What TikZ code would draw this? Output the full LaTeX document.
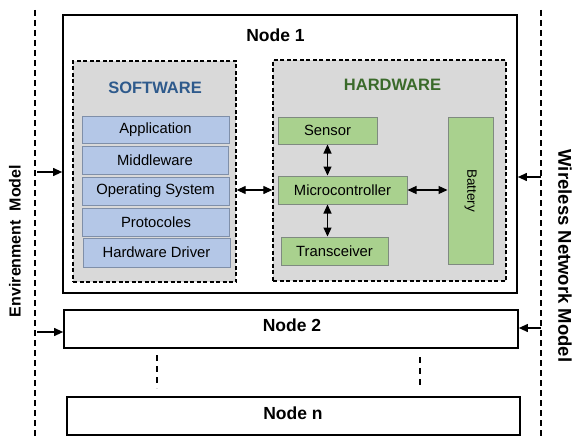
\documentclass[tikz,border=0pt]{standalone}
\usepackage{fontspec}
\setmainfont{Liberation Sans}
\usetikzlibrary{arrows.meta}
\definecolor{grayfill}{HTML}{D9D9D9}
\definecolor{bluefill}{HTML}{B4C7E7}
\definecolor{blueborder}{HTML}{7F8FA9}
\definecolor{greenfill}{HTML}{A9D18E}
\definecolor{greenborder}{HTML}{7F8A80}
\definecolor{swtext}{HTML}{2E5A8C}
\definecolor{hwtext}{HTML}{3A6A2A}
\tikzset{
  nodebox/.style={draw=black, line width=1.7pt, fill=white, inner sep=0pt},
  groupbox/.style={draw=black, dashed, dash pattern=on 4pt off 2.5pt, line width=1.3pt, fill=grayfill, inner sep=0pt},
  layerbox/.style={draw=blueborder, line width=1pt, fill=bluefill, inner sep=0pt, font=\fontsize{14.8}{17}\selectfont},
  partbox/.style={draw=greenborder, line width=1pt, fill=greenfill, inner sep=0pt, font=\fontsize{14.8}{17}\selectfont},
  titletext/.style={font=\bfseries\fontsize{17.5}{20}\selectfont, inner sep=0pt},
  grouptitle/.style={font=\bfseries\fontsize{16.5}{19}\selectfont, inner sep=0pt},
  sidetext/.style={font=\bfseries\fontsize{#1}{20}\selectfont, inner sep=0pt},
  modelline/.style={dashed, dash pattern=on 6pt off 4pt, line width=1.6pt},
  gapline/.style={dashed, dash pattern=on 6pt off 5pt, line width=1.4pt},
  conn/.style={line width=1.2pt, {Triangle[length=9pt,width=8pt]}-{Triangle[length=9pt,width=8pt]}},
  inarrow/.style={line width=1.1pt, -{Triangle[length=9pt,width=8pt]}}
}
\begin{document}
\begin{tikzpicture}[x=1pt,y=-1pt]
\useasboundingbox (0,0) rectangle (572,436);

% model lines
\coordinate (envtop) at (35,10);
\coordinate (envbot) at (35,436);
\coordinate (wnettop) at (541,10);
\coordinate (wnetbot) at (541,436);
\draw[modelline] (envtop) -- (envbot);
\draw[modelline] (wnettop) -- (wnetbot);

% side labels
\node[sidetext=16, rotate=90] (envlabel) at (15,241) {Envirenment~~Model};
\node[sidetext=18.5, rotate=-90] (wnetlabel) at (565,256) {Wireless Network Model};

% Node 1
\node[nodebox, minimum width=454pt, minimum height=278pt] (node1) at (290,154) {};
\node[titletext] (node1title) at (275.5,35) {Node 1};

% Software group
\node[groupbox, minimum width=163pt, minimum height=221pt] (sw) at (154.5,171.5) {};
\node[grouptitle, text=swtext] (swtitle) at (155,88) {SOFTWARE};
\node[layerbox, minimum width=147pt, minimum height=27pt] (app) at (155.5,129.5) {Application};
\node[layerbox, minimum width=146pt, minimum height=28pt] (mid) at (155,160) {Middleware};
\node[layerbox, minimum width=147pt, minimum height=28pt] (os) at (155.5,191) {Operating System};
\node[layerbox, minimum width=147pt, minimum height=28pt] (prot) at (156,222) {Protocoles};
\node[layerbox, minimum width=147pt, minimum height=29pt] (hd) at (156.5,252.5) {Hardware Driver};

% Hardware group
\node[groupbox, minimum width=233pt, minimum height=221pt] (hw) at (389.5,170.5) {};
\node[grouptitle, text=hwtext] (hwtitle) at (392.5,85) {HARDWARE};
\node[partbox, minimum width=99pt, minimum height=27pt] (sensor) at (327.5,130.5) {Sensor};
\node[partbox, minimum width=129pt, minimum height=28pt] (micro) at (342.5,190) {Microcontroller};
\node[partbox, minimum width=107pt, minimum height=28pt] (trans) at (334.5,251) {Transceiver};
\node[partbox, minimum width=45pt, minimum height=147pt] (battery) at (470.5,190.5) {};
\node[font=\fontsize{13.5}{16}\selectfont, rotate=-90, inner sep=0pt] (batterytext) at (battery.center) {Battery};

% internal connectors
\draw[conn] (sensor.south) -- (sensor.south |- micro.north);
\draw[conn] (micro.south -| sensor.south) -- (trans.north -| sensor.south);
\draw[conn] (micro.east) -- (micro.east -| battery.west);
\draw[conn] (sw.east |- micro.east) -- (hw.west |- micro.east);

% Node 2
\node[nodebox, minimum width=454pt, minimum height=38pt] (node2) at (291,329) {};
\node[titletext] (node2title) at (292,325) {Node 2};

% gap lines
\coordinate (gapAtop) at (157,355);
\coordinate (gapAbot) at (157,388);
\coordinate (gapBtop) at (420,357);
\coordinate (gapBbot) at (420,389);
\draw[gapline] (gapAtop) -- (gapAbot);
\draw[gapline] (gapBtop) -- (gapBbot);

% Node n
\node[nodebox, minimum width=453pt, minimum height=38pt] (noden) at (293.5,416) {};
\node[titletext] (nodentitle) at (293,413) {Node n};

% input arrows
\coordinate (e1) at (37,172);
\coordinate (e2) at (37,332);
\coordinate (w1) at (541,177);
\coordinate (w2) at (541,328);
\draw[inarrow] (e1) -- (e1 -| node1.west);
\draw[inarrow] (e2) -- (e2 -| node2.west);
\draw[inarrow] (w1) -- (w1 -| node1.east);
\draw[inarrow] (w2) -- (w2 -| node2.east);
\end{tikzpicture}
\end{document}
